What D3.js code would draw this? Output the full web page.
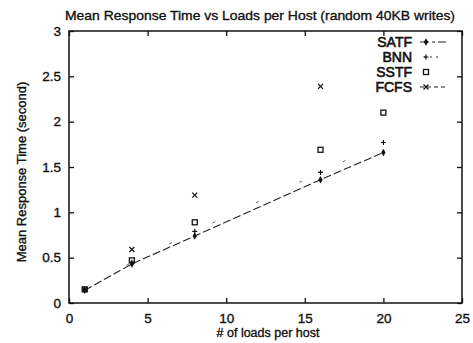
<!DOCTYPE html>
<html>
<head>
<meta charset="utf-8">
<script src="https://cdn.jsdelivr.net/npm/d3@7"></script>
<style>
  html, body { margin: 0; padding: 0; background: #fff; }
  svg { display: block; }
  text { font-family: "Liberation Sans", Arial, sans-serif; fill: #111; stroke: #111; stroke-width: 0.35; }
</style>
</head>
<body>
<svg id="chart" width="473" height="343"></svg>
<script>
// Loads per host (x) and mean response time in seconds for each scheduler
const loads = [1, 4, 8, 16, 20];
const satf  = [0.14, 0.43, 0.74, 1.36, 1.66];
const bnn   = [0.15, 0.45, 0.79, 1.44, 1.77];
const sstf  = [0.15, 0.47, 0.89, 1.69, 2.10];
const fcfs  = [0.15, 0.59, 1.19, 2.39];
const xTicks = [0, 5, 10, 15, 20, 25];
const yTicks = [0, 0.5, 1, 1.5, 2, 2.5, 3];
const seriesNames = ["SATF", "BNN", "SSTF", "FCFS"];

const svg = d3.select("#chart");
const m = { left: 69, right: 462, top: 31, bottom: 303 };

const x = d3.scaleLinear().domain([0, 25]).range([m.left, m.right]);
const y = d3.scaleLinear().domain([0, 3]).range([m.bottom, m.top]);

// Title
svg.append("text")
  .attr("x", 260).attr("y", 20)
  .attr("text-anchor", "middle")
  .attr("font-size", 13.5)
  .attr("textLength", 390).attr("lengthAdjust", "spacingAndGlyphs")
  .text("Mean Response Time vs Loads per Host (random 40KB writes)");

// Axes with inward ticks, mirrored on top/right
const tickLen = 5;
const axB = d3.axisBottom(x).tickValues(xTicks).tickSize(-tickLen).tickPadding(10).tickFormat(d3.format("d"));
const axT = d3.axisTop(x).tickValues(xTicks).tickSize(-tickLen).tickFormat("");
const axL = d3.axisLeft(y).tickValues(yTicks).tickSize(-tickLen).tickPadding(8).tickFormat(d => d === 0 ? "0" : d3.format("")(d));
const axR = d3.axisRight(y).tickValues(yTicks).tickSize(-tickLen).tickFormat("");

function styleAxis(g) {
  g.select(".domain").remove();
  g.selectAll(".tick line").attr("stroke", "#111").attr("stroke-width", 1.3);
  g.selectAll(".tick text").attr("font-size", 13.5).attr("fill", "#111")
    .style("font-family", "'Liberation Sans', Arial, sans-serif");
}
svg.append("g").attr("transform", `translate(0,${m.bottom})`).call(axB).call(styleAxis);
svg.append("g").attr("transform", `translate(0,${m.top})`).call(axT).call(styleAxis);
svg.append("g").attr("transform", `translate(${m.left},0)`).call(axL).call(styleAxis);
svg.append("g").attr("transform", `translate(${m.right},0)`).call(axR).call(styleAxis);

// Frame
svg.append("rect")
  .attr("x", m.left).attr("y", m.top)
  .attr("width", m.right - m.left).attr("height", m.bottom - m.top)
  .attr("fill", "none").attr("stroke", "#111").attr("stroke-width", 1.5);

// Axis titles
svg.append("text")
  .attr("x", 268).attr("y", 337)
  .attr("text-anchor", "middle").attr("font-size", 12.5)
  .text("# of loads per host");
svg.append("text")
  .attr("transform", "translate(26,172) rotate(-90)")
  .attr("text-anchor", "middle").attr("font-size", 13)
  .text("Mean Response Time (second)");

// Lines
const line = d3.line().x((d, i) => x(loads[i])).y(d => y(d));
svg.append("path").datum(satf).attr("d", line)
  .attr("fill", "none").attr("stroke", "#222").attr("stroke-width", 1.1)
  .attr("stroke-dasharray", "8,3");
svg.append("path").datum(bnn).attr("d", line)
  .attr("fill", "none").attr("stroke", "#555").attr("stroke-width", 0.9)
  .attr("stroke-dasharray", "3,45");

// Point markers
function drawMarker(g, type, cx, cy) {
  if (type === "SATF") {
    g.append("path").attr("d", d3.symbol(d3.symbolDiamond, 16)())
      .attr("transform", `translate(${cx},${cy})`).attr("fill", "#111");
  } else if (type === "BNN") {
    g.append("path").attr("d", `M${cx-2.5},${cy}H${cx+2.5}M${cx},${cy-2.5}V${cy+2.5}`)
      .attr("stroke", "#111").attr("stroke-width", 1.2);
  } else if (type === "SSTF") {
    g.append("rect").attr("x", cx - 2.5).attr("y", cy - 2.5).attr("width", 5).attr("height", 5)
      .attr("fill", "none").attr("stroke", "#111").attr("stroke-width", 1.3);
  } else {
    g.append("path").attr("d", `M${cx-2.5},${cy-2.5}L${cx+2.5},${cy+2.5}M${cx-2.5},${cy+2.5}L${cx+2.5},${cy-2.5}`)
      .attr("stroke", "#111").attr("stroke-width", 1.2);
  }
}
const pts = svg.append("g");
[[satf, "SATF"], [bnn, "BNN"], [sstf, "SSTF"], [fcfs, "FCFS"]].forEach(([vals, name]) => {
  vals.forEach((v, i) => drawMarker(pts, name, x(loads[i]), y(v)));
});

// Legend
const leg = svg.append("g");
seriesNames.forEach((name, i) => {
  const ly = 42 + i * 15;
  leg.append("text").attr("x", 412).attr("y", ly + 5)
    .attr("text-anchor", "end").attr("font-size", 14)
    .style("stroke-width", 0.6).text(name);
  if (name === "SATF") {
    leg.append("line").attr("x1", 420).attr("x2", 446).attr("y1", ly).attr("y2", ly)
      .attr("stroke", "#222").attr("stroke-width", 1.1).attr("stroke-dasharray", "9,3,3,3");
  } else if (name === "BNN") {
    leg.append("line").attr("x1", 424).attr("x2", 440).attr("y1", ly).attr("y2", ly)
      .attr("stroke", "#333").attr("stroke-width", 1).attr("stroke-dasharray", "2,4");
  } else if (name === "FCFS") {
    leg.append("line").attr("x1", 420).attr("x2", 448).attr("y1", ly).attr("y2", ly)
      .attr("stroke", "#222").attr("stroke-width", 1).attr("stroke-dasharray", "4,3");
  }
  drawMarker(leg, name, 426, ly);
});
</script>
</body>
</html>
